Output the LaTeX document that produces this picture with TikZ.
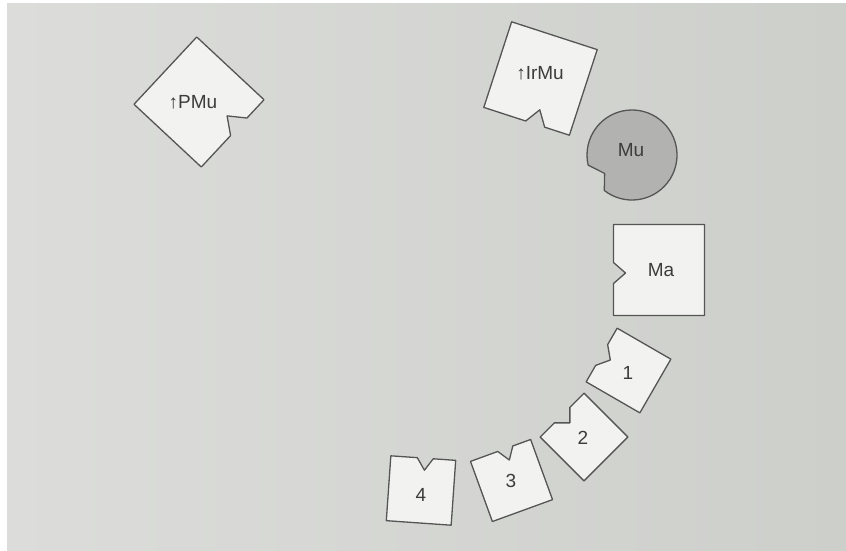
\documentclass[tikz,border=0pt]{standalone}
\usepackage{fontspec}
\setmainfont{Liberation Sans}
\usetikzlibrary{calc}

\definecolor{paperL}{HTML}{DCDDDA}
\definecolor{paperR}{HTML}{CDCFCB}
\definecolor{piecefill}{HTML}{F2F2F0}
\definecolor{mufill}{HTML}{B2B2B0}
\definecolor{edgecol}{HTML}{555555}
\definecolor{inkcol}{HTML}{3C3C3C}

\tikzset{
  piece/.style={draw=edgecol, fill=piecefill, line width=1.3pt, line join=round},
  lbl/.style={text=inkcol, font=\fontsize{19}{22}\selectfont, inner sep=0pt}
}

% Square piece with a V notch cut into its lower side (in local coordinates).
% #1,#2: centre (x, y measured downwards); #3: rotation; #4: side;
% #5: offset of the notch along the side; #6: half width of the notch; #7: depth
\newcommand\notchpiece[7]{%
  \begin{scope}[shift={(#1,-#2)}, rotate=#3]
    \pgfmathsetmacro\hs{#4/2}
    \draw[piece] (-\hs,-\hs) -- ({#5-#6},-\hs) -- (#5,{-\hs+#7})
      -- ({#5+#6},-\hs) -- (\hs,-\hs) -- (\hs,\hs) -- (-\hs,\hs) -- cycle;
  \end{scope}}

\begin{document}
\begin{tikzpicture}[x=1pt, y=1pt]
  % sheet
  \fill[white] (0,0) rectangle (846,-550);
  \shade[left color=paperL, right color=paperR] (7,-3) rectangle (846,-550);
  \useasboundingbox (0,0) rectangle (846,-550);

  % large pieces
  \notchpiece{199}{102}{47}{92}{9}{12}{16}
  \notchpiece{540.5}{78.5}{-18}{90}{9}{10}{15}
  \notchpiece{659}{270}{-90}{91}{3}{10.5}{12}

  % round piece
  \begin{scope}[shift={(632,-155)}]
    \draw[piece, fill=mufill] (232:45) arc[start angle=232, end angle=553, radius=45]
      -- (214:33) -- cycle;
  \end{scope}

  % small numbered pieces
  \notchpiece{628.5}{370.5}{-120}{62}{0}{12}{10}
  \notchpiece{584}{437}{-135}{62}{0}{11}{11}
  \notchpiece{511.5}{480.5}{-160}{64}{-5}{8}{12}
  \notchpiece{421}{490.5}{176}{65}{-2}{8}{12}

  % labels
  \node[lbl] (pmu)  at (193,-102) {↑PMu};
  \node[lbl] (irmu) at (540,-73)  {↑IrMu};
  \node[lbl] (mu)   at (631,-150) {Mu};
  \node[lbl] (ma)   at (661,-270) {Ma};
  \node[lbl] (p1)   at (628,-373) {1};
  \node[lbl] (p2)   at (583,-438) {2};
  \node[lbl] (p3)   at (511,-481) {3};
  \node[lbl] (p4)   at (421,-495) {4};
\end{tikzpicture}
\end{document}
